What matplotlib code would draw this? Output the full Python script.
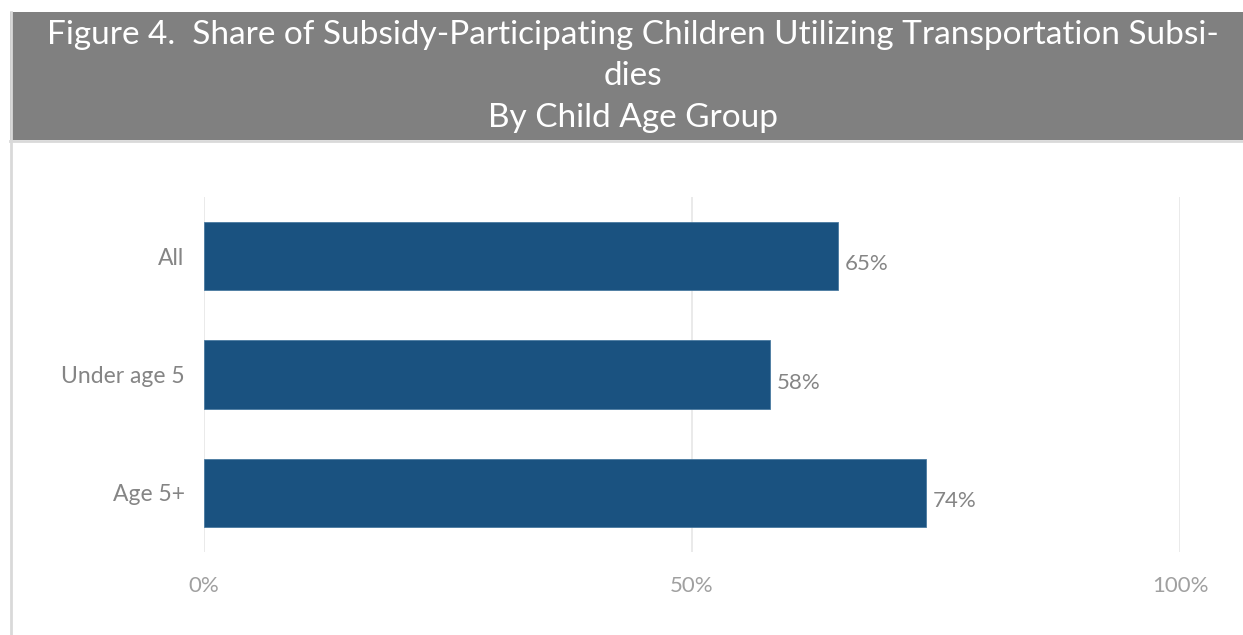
import matplotlib.pyplot as plt
from matplotlib.patches import Rectangle
from matplotlib.lines import Line2D

categories = ["All", "Under age 5", "Age 5+"]
shares = [65, 58, 74]
ticks = [0, 50, 100]
tick_labels = ["0%", "50%", "100%"]
title_lines = [
    "Figure 4.  Share of Subsidy-Participating Children Utilizing Transportation Subsi-",
    "dies",
    "By Child Age Group",
]

plt.rcParams['font.family'] = ['Lato', 'DejaVu Sans']

W, H = 1243, 635
fig = plt.figure(figsize=(W / 100, H / 100), dpi=100)
fig.patch.set_facecolor('white')

# header band and frame lines
fig.patches.append(Rectangle((10 / W, 1 - 140 / H), 1 - 10 / W, 128 / H,
                             transform=fig.transFigure, facecolor='#808080',
                             edgecolor='none', zorder=0))
fig.lines.append(Line2D([11 / W, 11 / W], [0, 1 - 12 / H], transform=fig.transFigure,
                        color='#d9d9d9', lw=2))
fig.lines.append(Line2D([10 / W, 1], [1 - 141 / H, 1 - 141 / H], transform=fig.transFigure,
                        color='#d9d9d9', lw=2))

for text, ypx in zip(title_lines, [35, 76, 118]):
    fig.text(633 / W, 1 - ypx / H, text, ha='center', va='center',
             color='white', fontsize=24)

ax = fig.add_axes([204 / W, 1 - 552 / H, 976 / W, 355 / H])
y = range(len(categories))
ax.barh(y, shares, height=0.58, color='#1a5280', edgecolor='#4a7aa0', lw=0.6, zorder=2)
for yi, v in zip(y, shares):
    ax.text(v + 0.7, yi + 0.07, f"{v}%", va='center', ha='left',
            fontsize=16, color='#858585')

ax.set_xlim(0, 100)
ax.set_ylim(len(categories) - 0.5, -0.5)
ax.set_yticks(list(y))
ax.set_yticklabels(categories)
ax.set_xticks(ticks)
ax.set_xticklabels(tick_labels)
ax.tick_params(axis='y', length=0, pad=14, labelsize=16.5, labelcolor='#858585')
ax.tick_params(axis='x', length=0, pad=17, labelsize=16, labelcolor='#a0a0a0')
ax.grid(axis='x', color='#e6e6e6', lw=1.2, zorder=0)
for s in ax.spines.values():
    s.set_visible(False)

fig.savefig('out.png', dpi=100)
